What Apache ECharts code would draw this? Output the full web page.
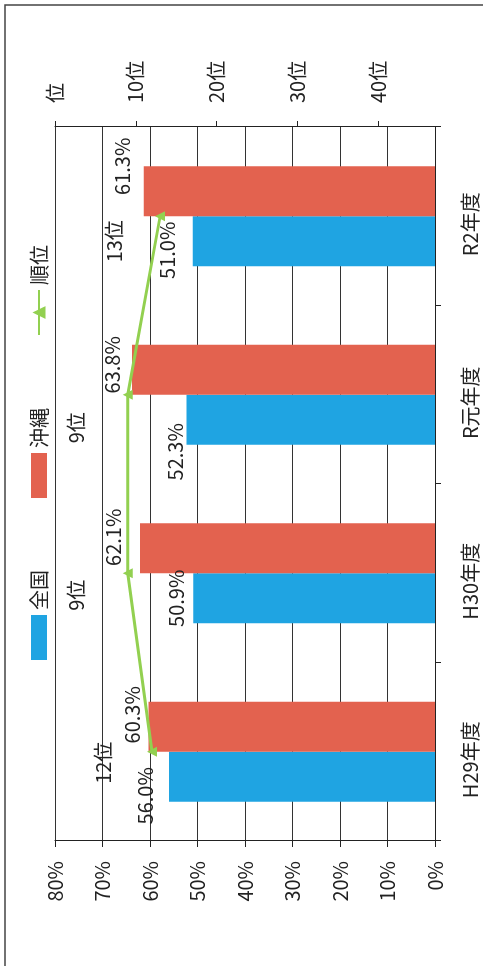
<!DOCTYPE html>
<html>
<head>
<meta charset="utf-8">
<script src="https://cdn.jsdelivr.net/npm/echarts@6/dist/echarts.min.js"></script>
<style>
  html, body { margin: 0; padding: 0; width: 483px; height: 966px; overflow: hidden; background: #fff; }
  /* the chart is drawn lying on its side, as in the scan */
  #chart {
    position: absolute; left: 0; top: 0;
    width: 966px; height: 483px;
    transform-origin: 0 0;
    transform: translate(0, 966px) rotate(-90deg);
  }
</style>
</head>
<body>
<div id="chart"></div>
<script>
const categories = ['H29年度', 'H30年度', 'R元年度', 'R2年度'];
const zenkoku = [56.0, 50.9, 52.3, 51.0];
const okinawa = [60.3, 62.1, 63.8, 61.3];
const rank = [12, 9, 9, 13];
const rankTicks = [0, 10, 20, 30, 40];

// label placement: [shift along category, height above mark]
const zenkokuLabelPos = [[-19, 24], [0, 17], [-32, 11], [-9, 25]];
const okinawaLabelPos = [[12, 16], [11, 27], [5, 20], [25, 21]];
const rankLabelPos = [[-11, 44], [-22, 46], [-33, 46], [-25, 41]];

const font = 'Noto Sans CJK JP';
const ink = '#222';

function withLabels(values, pos) {
  return values.map((v, i) => ({
    value: v,
    label: { distance: pos[i][1] - 10, offset: [pos[i][0], 0] }
  }));
}

const chart = echarts.init(document.getElementById('chart'));

chart.setOption({
  animation: false,
  textStyle: { fontFamily: font, color: ink },
  graphic: [{
    type: 'rect',
    shape: { x: -10, y: 5, width: 971, height: 500 },
    style: { fill: 'none', stroke: '#444', lineWidth: 1.5 },
    silent: true
  }],
  legend: {
    data: [
      { name: '全国', icon: 'rect' },
      { name: '沖縄', icon: 'rect' },
      { name: '順位' }
    ],
    left: 301,
    top: 24,
    itemWidth: 45,
    itemHeight: 16,
    itemGap: 72,
    textStyle: { fontFamily: font, fontSize: 20, color: ink }
  },
  grid: { left: 125, right: 127, top: 55, bottom: 48 },
  xAxis: {
    type: 'category',
    data: categories,
    axisLine: { lineStyle: { color: ink, width: 1 } },
    axisTick: { show: true, length: 6, lineStyle: { color: ink } },
    axisLabel: { fontFamily: font, fontSize: 20, color: ink, margin: 25, padding: [0, 16, 0, 0] }
  },
  yAxis: [
    {
      type: 'value',
      min: 0,
      max: 80,
      interval: 10,
      axisLine: { show: true, lineStyle: { color: ink, width: 1 } },
      axisTick: { show: true, length: 6, lineStyle: { color: ink } },
      splitLine: { lineStyle: { color: '#333', width: 1 } },
      axisLabel: { fontFamily: font, fontSize: 20, color: ink, margin: 20, formatter: '{value}%' }
    },
    {
      type: 'value',
      position: 'right',
      min: 0,
      max: 47,
      inverse: true,
      axisLine: { show: true, lineStyle: { color: ink, width: 1 } },
      axisTick: { show: true, length: 6, customValues: rankTicks, lineStyle: { color: ink } },
      splitLine: { show: false },
      axisLabel: {
        fontFamily: font, fontSize: 20, color: ink, margin: 24,
        customValues: rankTicks,
        formatter: v => (v === 0 ? '位' : v + '位')
      }
    }
  ],
  series: [
    {
      name: '全国',
      type: 'bar',
      data: withLabels(zenkoku, zenkokuLabelPos),
      barWidth: 50,
      barGap: '0%',
      itemStyle: { color: '#1fa4e2' },
      label: {
        show: true, position: 'top', fontSize: 20, lineHeight: 20, color: ink,
        formatter: p => p.value.toFixed(1) + '%'
      }
    },
    {
      name: '沖縄',
      type: 'bar',
      data: withLabels(okinawa, okinawaLabelPos),
      barWidth: 50,
      itemStyle: { color: '#e3624f' },
      label: {
        show: true, position: 'top', fontSize: 20, lineHeight: 20, color: ink,
        formatter: p => p.value.toFixed(1) + '%'
      }
    },
    {
      name: '順位',
      type: 'line',
      yAxisIndex: 1,
      data: withLabels(rank, rankLabelPos),
      z: 5,
      symbol: 'triangle',
      symbolSize: 10,
      itemStyle: { color: '#92d050' },
      lineStyle: { color: '#92d050', width: 3 },
      label: {
        show: true, position: 'top', fontSize: 20, lineHeight: 20, color: ink,
        formatter: p => p.value + '位'
      }
    }
  ]
});
</script>
</body>
</html>
